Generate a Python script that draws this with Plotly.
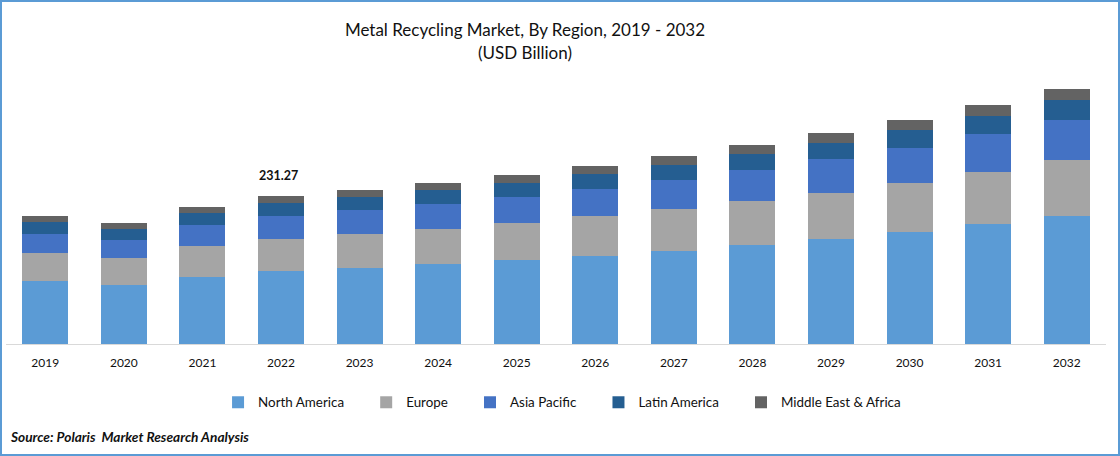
import plotly.graph_objects as go

years = ["2019", "2020", "2021", "2022", "2023", "2024", "2025", "2026", "2027", "2028", "2029", "2030", "2031", "2032"]

north_america = [98.4, 92.2, 104.7, 114.1, 118.8, 125.0, 131.3, 137.5, 145.3, 154.7, 164.1, 175.0, 187.5, 200.0]
europe = [43.8, 42.2, 48.4, 50.0, 53.1, 54.7, 57.8, 62.5, 65.6, 68.8, 71.9, 76.6, 81.3, 87.5]
asia_pacific = [29.7, 28.1, 32.8, 35.9, 37.5, 39.1, 40.6, 42.2, 45.3, 48.4, 53.1, 54.7, 59.4, 62.5]
latin_america = [18.8, 17.2, 18.8, 20.3, 20.3, 21.9, 21.9, 23.4, 23.4, 25.0, 25.0, 28.1, 28.1, 31.3]
middle_east = [9.4, 9.4, 9.4, 10.9, 10.9, 10.9, 12.5, 12.5, 14.1, 14.1, 15.6, 15.6, 17.2, 17.2]

label_year = "2022"
label_total = 231.27

FONT = "Lato"
TEXT = "#111111"
# plotly has no gap setting for horizontal legend entries, so pad the names
PAD = "\u00a0" * 5

fig = go.Figure()

# stacked bars, bottom to top
fig.add_trace(go.Bar(x=years, y=north_america, name="North America" + PAD, marker_color="#5b9bd5"))
fig.add_trace(go.Bar(x=years, y=europe, name="Europe" + PAD, marker_color="#a5a5a5"))
fig.add_trace(go.Bar(x=years, y=asia_pacific, name="Asia Pacific" + PAD, marker_color="#4472c4"))
fig.add_trace(go.Bar(x=years, y=latin_america, name="Latin America" + PAD, marker_color="#255e91"))
fig.add_trace(go.Bar(x=years, y=middle_east, name="Middle East & Africa", marker_color="#636363"))

fig.update_traces(marker_line_width=0)

# label over the 2022 bar, x is the category index
fig.add_annotation(x=years.index(label_year), y=label_total, text="<b>231.27</b>", showarrow=False,
                   yshift=20, xshift=-3, font=dict(family=FONT, size=12.5, color=TEXT))

# source line
fig.add_annotation(xref="paper", yref="paper", x=0.0, y=-0.339, xanchor="left", yanchor="middle",
                   xshift=2, text="<b><i>Source: Polaris  Market Research Analysis</i></b>",
                   showarrow=False, font=dict(family=FONT, size=13.7, color=TEXT))

# outer frame
fig.add_shape(type="rect", xref="paper", yref="paper", x0=-0.00455, x1=1.01182, y0=-0.4051, y1=1.2518,
              line=dict(color="#5b9bd5", width=2), fillcolor="rgba(0,0,0,0)")

fig.update_layout(
    width=1120,
    height=456,
    barmode="stack",
    bargap=0.415,
    paper_bgcolor="white",
    plot_bgcolor="white",
    margin=dict(l=6, r=14, t=70, b=112, autoexpand=False),
    font=dict(family=FONT, size=12, color=TEXT),
    title=dict(text="Metal Recycling Market, By Region, 2019 - 2032<br>(USD Billion)",
               x=525 / 1120, xanchor="center", y=0.92, yanchor="middle",
               font=dict(family=FONT, size=17, color=TEXT)),
    legend=dict(orientation="h", traceorder="normal", x=0.5055, xanchor="center",
                y=-0.2137, yanchor="middle", font=dict(family=FONT, size=13.4, color=TEXT)),
    xaxis=dict(type="category", categoryorder="array", categoryarray=years, showline=True,
               linecolor="#d9d9d9", linewidth=1, ticks="", ticklabelstandoff=8,
               tickfont=dict(size=12), showgrid=False),
    yaxis=dict(visible=False, range=[0, 428], showgrid=False),
)

fig.write_html("out.html", config={"displayModeBar": False}, post_script="document.body.style.margin='0';")
